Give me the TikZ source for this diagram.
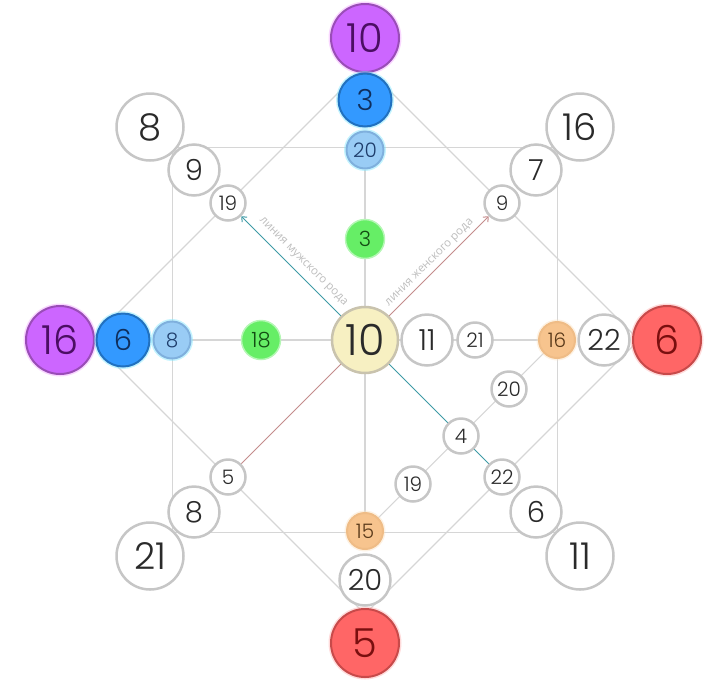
\documentclass[tikz,border=0pt]{standalone}
\usepackage{fontspec}
\setmainfont{Poppins}[UprightFont=* Light]
\newfontfamily\cyrfont{Open Sans}
\usetikzlibrary{arrows.meta}
\pgfdeclarelayer{bg}
\pgfsetlayers{bg,main}
\definecolor{lineg}{HTML}{D6D6D6}
\definecolor{wb}{HTML}{C6C6C6}
\definecolor{tx}{HTML}{2A2A2A}
\definecolor{purpf}{HTML}{CC66FF}
\definecolor{purpd}{HTML}{9A4DB8}
\definecolor{purpt}{HTML}{4B0E63}
\definecolor{purpg}{HTML}{F2A6FF}
\definecolor{bluef}{HTML}{3399FF}
\definecolor{blued}{HTML}{2171C0}
\definecolor{bluet}{HTML}{0F2E5C}
\definecolor{blueg}{HTML}{7FE6FF}
\definecolor{lbluef}{HTML}{99CCF5}
\definecolor{lblued}{HTML}{7FB0DD}
\definecolor{lbluet}{HTML}{1E3D6B}
\definecolor{greenf}{HTML}{66EE66}
\definecolor{greent}{HTML}{134D13}
\definecolor{greeng}{HTML}{B5F7B5}
\definecolor{redf}{HTML}{FF6666}
\definecolor{redd}{HTML}{C84A4A}
\definecolor{redt}{HTML}{7A0F0F}
\definecolor{redg}{HTML}{FFB0B0}
\definecolor{orf}{HTML}{F7C48E}
\definecolor{ord}{HTML}{EFBC86}
\definecolor{ort}{HTML}{5A3A1A}
\definecolor{orgl}{HTML}{FBE2C2}
\definecolor{cenf}{HTML}{F7F0C2}
\definecolor{cend}{HTML}{C9C3AE}
\definecolor{teal}{HTML}{3E9AA6}
\definecolor{redline}{HTML}{C48C8C}
\definecolor{lbl}{HTML}{BDBDBD}
\begin{document}
\begin{tikzpicture}[x=1pt,y=-1pt,
  ball/.style={circle, inner sep=0pt},
  fs/.style={font=\fontsize{#1}{#1}\selectfont},
  wbig/.style={ball, draw=wb, fill=white, line width=2.5pt, minimum size=67pt, text=tx, fs=37},
  wmid/.style={ball, draw=wb, fill=white, line width=2.5pt, minimum size=51pt, text=tx, fs=29},
  wsml/.style={ball, draw=wb, fill=white, line width=2.5pt, minimum size=35pt, text=tx, fs=20},
  glow/.style={preaction={draw=#1, line width=5pt, draw opacity=0.45}},
  purp/.style={ball, fill=purpf, draw=purpd, line width=2pt, minimum size=68pt, text=purpt, fs=40, glow=purpg},
  redb/.style={ball, fill=redf, draw=redd, line width=2pt, minimum size=68pt, text=redt, fs=40, glow=redg},
  blueb/.style={ball, fill=bluef, draw=blued, line width=2pt, minimum size=53pt, text=bluet, fs=29, glow=blueg},
  lblueb/.style={ball, fill=lbluef, draw=lblued, line width=2pt, minimum size=37pt, text=lbluet, fs=20, glow=blueg},
  greenb/.style={ball, fill=greenf, draw=greeng, line width=1.5pt, minimum size=39pt, text=greent, fs=21},
  orb/.style={ball, fill=orf, draw=ord, line width=2pt, minimum size=36pt, text=ort, fs=20, glow=orgl},
  cenb/.style={ball, fill=cenf, draw=cend, line width=2.5pt, minimum size=66pt, text=tx, fs=43},
  gline/.style={draw=lineg, line width=1.1pt},
  lbltext/.style={text=lbl, font=\cyrfont\fontsize{11.5}{11.5}\selectfont, inner sep=0pt}
]
\useasboundingbox (0,0) rectangle (714,683);
% centre
\node[cenb] (c) at (365,340) {10};
% top column
\node[purp] (tP) at (365,38) {10};
\node[blueb] (tB) at (365,100) {3};
\node[lblueb] (tL) at (365,150) {20};
\node[greenb] (tG) at (365,239) {3};
% left row
\node[purp] (lP) at (60,340) {16};
\node[blueb] (lB) at (123,340) {6};
\node[lblueb] (lL) at (172,340) {8};
\node[greenb] (lG) at (261,340) {18};
% right row
\node[redb] (rR) at (667,340) {6};
\node[wmid] (r22) at (604,340) {22};
\node[orb] (rO) at (557,340) {16};
\node[wsml] (r21) at (475,340) {21};
\node[wmid] (r11) at (427,340) {11};
% bottom column
\node[redb] (bR) at (365,643) {5};
\node[wmid] (b20) at (365,580) {20};
\node[orb] (bO) at (365,531) {15};
% diagonals
\node[wbig] (tl1) at (150,127) {8};
\node[wmid] (tl2) at (194,170) {9};
\node[wsml] (tl3) at (228,203) {19};
\node[wbig] (tr1) at (580,127) {16};
\node[wmid] (tr2) at (536,170) {7};
\node[wsml] (tr3) at (502,203) {9};
\node[wbig] (bl1) at (150,556) {21};
\node[wmid] (bl2) at (194,512) {8};
\node[wsml] (bl3) at (228,477) {5};
\node[wbig] (br1) at (580,556) {11};
\node[wmid] (br2) at (536,512) {6};
\node[wsml] (br3) at (502,477) {22};
% inner lower-right
\node[wsml] (i20) at (509,389) {20};
\node[wsml] (i4) at (461,436) {4};
\node[wsml] (i19) at (413,484) {19};
% hidden corners
\coordinate (sq1) at (172.5,147.5);
\coordinate (sq2) at (557.5,147.5);
\coordinate (sq3) at (557.5,532.5);
\coordinate (sq4) at (172.5,532.5);
\coordinate (dT) at (365,66);
\coordinate (dR) at (639,340);
\coordinate (dB) at (365,614);
\coordinate (dL) at (91,340);
% labels
\node[lbltext, rotate=-45] (lm) at (303,262) {линия мужского рода};
\node[lbltext, rotate=45] (lw) at (430,263) {линия женского рода};
\begin{pgfonlayer}{bg}
  \draw[gline] (sq1) -- (sq2) -- (sq3) -- (sq4) -- cycle;
  \draw[gline] (dT) -- (dR) -- (dB) -- (dL) -- cycle;
  \draw[gline] (tL) -- (bO);
  \draw[gline] (lL) -- (rO);
  \draw[gline] (rO) -- (bO);
  \draw[teal, line width=1pt, -{Straight Barb[length=4pt,width=7pt]}] (c) -- (tl3);
  \draw[teal, line width=1pt] (c) -- (br3);
  \draw[redline, line width=1pt, -{Straight Barb[length=4pt,width=7pt]}] (c) -- (tr3);
  \draw[redline, line width=1pt] (c) -- (bl3);
\end{pgfonlayer}
\end{tikzpicture}
\end{document}
